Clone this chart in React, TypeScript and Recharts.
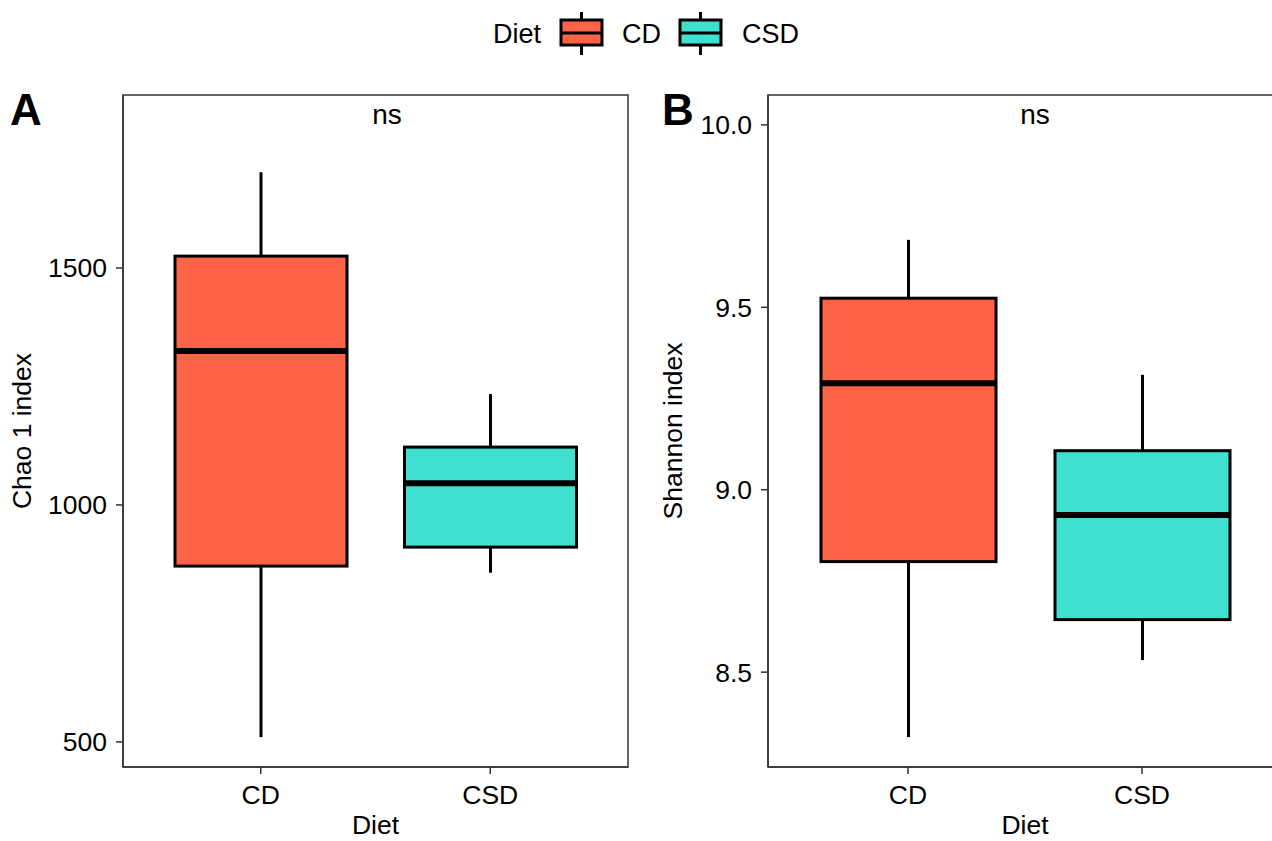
import { ComposedChart, Bar, XAxis, YAxis } from 'recharts';

const groups = ['CD', 'CSD'];
const groupColors = ['#FF6347', '#40E0D0'];

// Chao 1 index (panel A)
const chaoMin = [510, 857];
const chaoQ1 = [871, 911];
const chaoMedian = [1325, 1046];
const chaoQ3 = [1525, 1122];
const chaoMax = [1702, 1234];
const chaoTicks = [500, 1000, 1500];

// Shannon index (panel B)
const shannonMin = [8.322, 8.533];
const shannonQ1 = [8.803, 8.644];
const shannonMedian = [9.292, 8.931];
const shannonQ3 = [9.525, 9.107];
const shannonMax = [9.685, 9.315];
const shannonTicks = [8.5, 9.0, 9.5, 10.0];

const FONT = '"Liberation Sans", Arial, sans-serif';
const AXIS = '#333333';
const PLOT_TOP = 95;
const PLOT_H = 672;

function buildRows(min: number[], q1: number[], med: number[], q3: number[], max: number[]) {
  return groups.map((g, i) => ({
    group: g,
    color: groupColors[i],
    range: [min[i], max[i]],
    min: min[i],
    q1: q1[i],
    median: med[i],
    q3: q3[i],
    max: max[i],
  }));
}

const chaoRows = buildRows(chaoMin, chaoQ1, chaoMedian, chaoQ3, chaoMax);
const shannonRows = buildRows(shannonMin, shannonQ1, shannonMedian, shannonQ3, shannonMax);

// draws a boxplot inside the bar that spans [min, max]
function BoxShape(props: any) {
  const { x, y, width, height, payload } = props;
  if (!payload) return null;
  const { min, max, q1, median, q3, color } = payload;
  const top = Math.min(y, y + height);
  const h = Math.abs(height);
  const toPx = (v: number) => top + (h * (max - v)) / (max - min);
  const cx = x + width / 2;
  const yQ3 = toPx(q3);
  const yQ1 = toPx(q1);
  const yMed = toPx(median);
  return (
    <g>
      <line x1={cx} x2={cx} y1={toPx(max)} y2={yQ3} stroke="#000" strokeWidth={3} />
      <line x1={cx} x2={cx} y1={yQ1} y2={toPx(min)} stroke="#000" strokeWidth={3} />
      <rect x={x} y={yQ3} width={width} height={yQ1 - yQ3} fill={color} stroke="#000" strokeWidth={3} />
      <line x1={x} x2={x + width} y1={yMed} y2={yMed} stroke="#000" strokeWidth={6} />
    </g>
  );
}

type PanelProps = {
  data: any[];
  width: number;
  yWidth: number;
  plotWidth: number;
  domain: [number, number];
  ticks: number[];
  title: string;
  titleOffset: number;
  barSize: number;
  fmt?: (v: number) => string;
};

function Panel({ data, width, yWidth, plotWidth, domain, ticks, title, titleOffset, barSize, fmt }: PanelProps) {
  const tickStyle = { fontSize: 26.5, fill: '#000', fontFamily: FONT };
  const frame = { stroke: AXIS, strokeWidth: 1.5 };
  return (
    <ComposedChart
      width={width}
      height={841}
      data={data}
      margin={{ top: PLOT_TOP, right: width - yWidth - plotWidth, bottom: 841 - PLOT_TOP - PLOT_H - 74, left: 0 }}
    >
      <XAxis
        dataKey="group"
        type="category"
        height={74}
        padding={{ left: 23, right: 23 }}
        axisLine={frame}
        tickLine={frame}
        tickSize={7}
        tickMargin={11}
        tick={tickStyle}
        label={{ value: 'Diet', position: 'insideBottom', offset: 7, fontSize: 26.5, fill: '#000', fontFamily: FONT }}
      />
      <YAxis
        type="number"
        width={yWidth}
        domain={domain}
        ticks={ticks}
        allowDataOverflow
        axisLine={frame}
        tickLine={frame}
        tickSize={7}
        tickMargin={9}
        tick={tickStyle}
        tickFormatter={fmt}
        label={{
          value: title,
          angle: -90,
          position: 'insideLeft',
          offset: titleOffset,
          fontSize: 26.5,
          fill: '#000',
          fontFamily: FONT,
          style: { textAnchor: 'middle' },
        }}
      />
      <Bar dataKey="range" barSize={barSize} shape={BoxShape} isAnimationActive={false} />
    </ComposedChart>
  );
}

function LegendKey({ x, color }: { x: number; color: string }) {
  return (
    <g>
      <line x1={x + 20.5} x2={x + 20.5} y1={12} y2={55} stroke="#000" strokeWidth={3} />
      <rect x={x} y={20} width={41} height={25} fill={color} stroke="#000" strokeWidth={3} />
      <line x1={x} x2={x + 41} y1={33} y2={33} stroke="#000" strokeWidth={3} />
    </g>
  );
}

export default function App() {
  return (
    <div style={{ position: 'absolute', left: 0, top: 0, width: 1272, height: 841, overflow: 'hidden', background: '#fff', fontFamily: FONT }}>
      <div style={{ position: 'absolute', left: 0, top: 0 }}>
        <Panel data={chaoRows} width={640} yWidth={123} plotWidth={505} domain={[447, 1865]} ticks={chaoTicks} title="Chao 1 index" titleOffset={22} barSize={172} />
      </div>
      <div style={{ position: 'absolute', left: 640, top: 0 }}>
        <Panel
          data={shannonRows}
          width={642}
          yWidth={128}
          plotWidth={514}
          domain={[8.24, 10.082]}
          ticks={shannonTicks}
          title="Shannon index"
          titleOffset={33}
          barSize={175}
          fmt={(v: number) => v.toFixed(1)}
        />
      </div>
      <svg width={1272} height={841} style={{ position: 'absolute', left: 0, top: 0, pointerEvents: 'none' }}>
        {/* panel frames (top / right edges) */}
        <rect x={123} y={PLOT_TOP} width={505} height={PLOT_H} fill="none" stroke={AXIS} strokeWidth={1.5} />
        <rect x={768} y={PLOT_TOP} width={514} height={PLOT_H} fill="none" stroke={AXIS} strokeWidth={1.5} />
        <text x={10} y={125} fontSize={44} fontWeight="bold" fontFamily={FONT} fill="#000">A</text>
        <text x={662} y={125} fontSize={44} fontWeight="bold" fontFamily={FONT} fill="#000">B</text>
        <text x={387} y={124} fontSize={28} textAnchor="middle" fontFamily={FONT} fill="#000">ns</text>
        <text x={1035} y={124} fontSize={28} textAnchor="middle" fontFamily={FONT} fill="#000">ns</text>
        <text x={493} y={43} fontSize={27} fontFamily={FONT} fill="#000">Diet</text>
        <LegendKey x={561} color={groupColors[0]} />
        <text x={622} y={43} fontSize={27} fontFamily={FONT} fill="#000">{groups[0]}</text>
        <LegendKey x={680} color={groupColors[1]} />
        <text x={742} y={43} fontSize={27} fontFamily={FONT} fill="#000">{groups[1]}</text>
      </svg>
    </div>
  );
}
